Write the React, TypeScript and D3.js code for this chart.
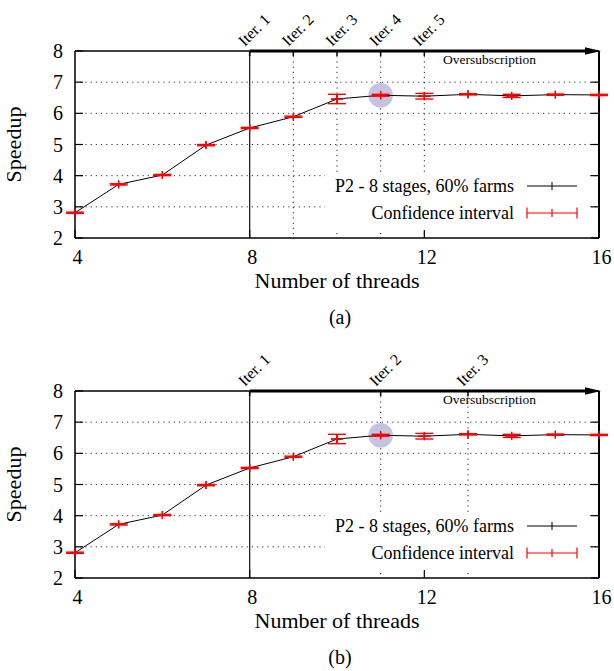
import React from "react";
import * as d3 from "d3";

const threads = [4, 5, 6, 7, 8, 9, 10, 11, 12, 13, 14, 15, 16];
const speedup = [2.81, 3.72, 4.02, 4.98, 5.53, 5.89, 6.46, 6.58, 6.55, 6.61, 6.56, 6.6, 6.59];
const ciLow = [2.79, 3.7, 4.0, 4.96, 5.51, 5.87, 6.31, 6.55, 6.46, 6.59, 6.51, 6.58, 6.57];
const ciHigh = [2.83, 3.74, 4.04, 5.0, 5.55, 5.91, 6.61, 6.61, 6.64, 6.63, 6.61, 6.62, 6.61];
const yTicks = [2, 3, 4, 5, 6, 7, 8];
const xTicks = [4, 8, 12, 16];
const itersA = [8, 9, 10, 11, 12];
const itersB = [8, 11, 13];
const highlightX = 11;
const seriesLabel = "P2 - 8 stages, 60% farms";
const ciLabel = "Confidence interval";

const FONT = "'Liberation Serif', 'Times New Roman', serif";
const L = 75, R = 599, T = 51, B = 238;

function Panel({ offsetY, iters, caption }: { offsetY: number; iters: number[]; caption: string }) {
  const x = d3.scaleLinear().domain([4, 16]).range([L, R]);
  const y = d3.scaleLinear().domain([2, 8]).range([B, T]);
  const pts = threads.map((t, i) => [t, speedup[i]] as [number, number]);
  const line = d3.line<[number, number]>().x(d => x(d[0])).y(d => y(d[1]));
  const dot = "1.2,4";
  const legX1 = 527, legX2 = 577, legY1 = 186, legY2 = 213;
  return (
    <g transform={`translate(0,${offsetY})`} fontFamily={FONT}>
      {/* horizontal grid */}
      {yTicks.filter(v => v > 2 && v < 8).map(v => (
        <line key={"g" + v} x1={L} x2={R} y1={y(v)} y2={y(v)} stroke="#333" strokeWidth={1} strokeDasharray={dot} />
      ))}
      {/* iteration grid lines */}
      {iters.map((it, i) => (
        <line key={"it" + it} x1={x(it)} x2={x(it)} y1={T} y2={B} stroke="#222"
          strokeWidth={i === 0 ? 1.3 : 1} strokeDasharray={i === 0 ? undefined : dot} />
      ))}
      {/* legend box (opaque) */}
      <rect x={325} y={172} width={265} height={57} fill="#fff" />
      {/* left & right ticks */}
      {yTicks.map(v => (
        <g key={"yt" + v}>
          <line x1={L} x2={L + 8} y1={y(v)} y2={y(v)} stroke="#000" strokeWidth={1.2} />
          <line x1={R - 8} x2={R} y1={y(v)} y2={y(v)} stroke="#000" strokeWidth={1.2} />
          <text x={63} y={y(v) + 7} fontSize={20} textAnchor="end" fill="#000">{v}</text>
        </g>
      ))}
      {xTicks.map(v => (
        <g key={"xt" + v}>
          <line x1={x(v)} x2={x(v)} y1={B} y2={B - 8} stroke="#000" strokeWidth={1.2} />
          <text x={x(v) + 2.5} y={264} fontSize={20} textAnchor="middle" fill="#000">{v}</text>
        </g>
      ))}
      {/* x2 ticks + iteration labels */}
      {iters.map((it, i) => (
        <g key={"il" + it}>
          <line x1={x(it)} x2={x(it)} y1={T} y2={T + 5} stroke="#000" strokeWidth={1.5} />
          <text transform={`translate(${x(it) - 5},${47}) rotate(-45)`} fontSize={16} fill="#000">{`Iter. ${i + 1}`}</text>
        </g>
      ))}
      {/* borders */}
      <line x1={L} x2={L} y1={T} y2={B} stroke="#000" strokeWidth={1.5} />
      <line x1={L} x2={R} y1={B} y2={B} stroke="#000" strokeWidth={1.5} />
      <line x1={L} x2={x(8)} y1={T} y2={T} stroke="#000" strokeWidth={1.3} />
      <line x1={R} x2={R} y1={T} y2={B} stroke="#000" strokeWidth={2} />
      {/* oversubscription arrow */}
      <line x1={x(8)} x2={588} y1={T} y2={T} stroke="#000" strokeWidth={3} />
      <polygon points={`${585},${T - 3.8} ${601},${T} ${585},${T + 3.8}`} fill="#000" />
      <text x={489.5} y={64} fontSize={13.5} textAnchor="middle" fill="#000">Oversubscription</text>
      {/* highlight circle */}
      <circle cx={x(highlightX)} cy={y(speedup[threads.indexOf(highlightX)])} r={12.3} fill="#c4c4e2" />
      {/* series line */}
      <path d={line(pts) || ""} fill="none" stroke="#000" strokeWidth={1} />
      {pts.map(([t, v]) => (
        <path key={"bp" + t} d={`M${x(t) - 6},${y(v)}h12M${x(t)},${y(v) - 4}v8`} stroke="#000" strokeWidth={1} />
      ))}
      {/* confidence intervals */}
      {threads.map((t, i) => {
        const cx = x(t);
        const yl = y(ciLow[i]), yh = y(ciHigh[i]), ym = y(speedup[i]);
        return (
          <g key={"ci" + t} stroke="#ff0000" strokeWidth={1.4} fill="none">
            <line x1={cx} x2={cx} y1={yl} y2={yh} />
            <line x1={cx - 9} x2={cx + 9} y1={yl} y2={yl} />
            <line x1={cx - 9} x2={cx + 9} y1={yh} y2={yh} />
            <line x1={cx - 6} x2={cx + 6} y1={ym} y2={ym} />
            <line x1={cx} x2={cx} y1={ym - 4} y2={ym + 4} />
          </g>
        );
      })}
      {/* legend */}
      <text x={514} y={legY1 + 6} fontSize={18} textAnchor="end" fill="#000">{seriesLabel}</text>
      <line x1={legX1} x2={legX2} y1={legY1} y2={legY1} stroke="#000" strokeWidth={1} />
      <line x1={(legX1 + legX2) / 2} x2={(legX1 + legX2) / 2} y1={legY1 - 4} y2={legY1 + 4} stroke="#000" strokeWidth={1} />
      <text x={514} y={legY2 + 6} fontSize={18} textAnchor="end" fill="#000">{ciLabel}</text>
      <g stroke="#ff0000" strokeWidth={1.2}>
        <line x1={legX1} x2={legX2} y1={legY2} y2={legY2} />
        <line x1={legX1} x2={legX1} y1={legY2 - 5.5} y2={legY2 + 5.5} />
        <line x1={legX2} x2={legX2} y1={legY2 - 5.5} y2={legY2 + 5.5} />
        <line x1={(legX1 + legX2) / 2} x2={(legX1 + legX2) / 2} y1={legY2 - 4} y2={legY2 + 4} />
      </g>
      {/* axis titles */}
      <text x={(L + R) / 2} y={288} fontSize={22} textAnchor="middle" fill="#000">Number of threads</text>
      <text transform={`translate(21,${(T + B) / 2}) rotate(-90)`} fontSize={22} textAnchor="middle" fill="#000">Speedup</text>
      <text x={340} y={324} fontSize={20} textAnchor="middle" fill="#000">{caption}</text>
    </g>
  );
}

export default function App() {
  return (
    <svg width={614} height={671} style={{ position: "absolute", left: 0, top: 0, background: "#fff" }}>
      <rect x={0} y={0} width={614} height={671} fill="#fff" />
      <Panel offsetY={0} iters={itersA} caption="(a)" />
      <Panel offsetY={340} iters={itersB} caption="(b)" />
    </svg>
  );
}
